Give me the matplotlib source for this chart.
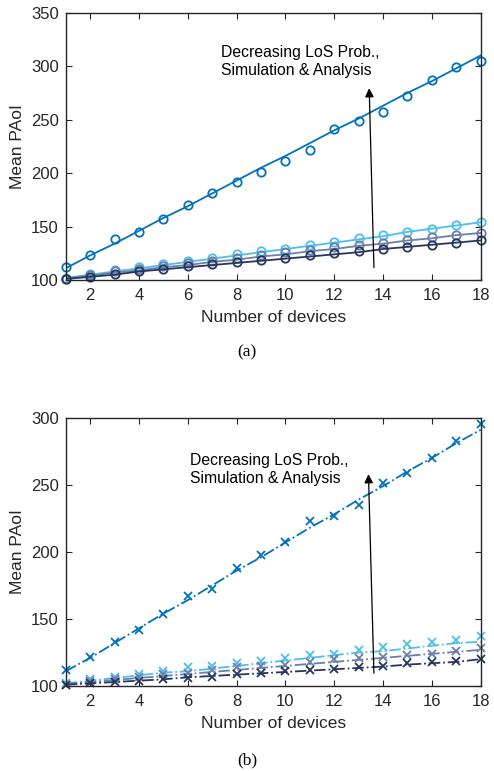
import matplotlib
matplotlib.use("Agg")
import matplotlib.pyplot as plt
import numpy as np

plt.rcParams["font.family"] = ["Liberation Sans", "DejaVu Sans"]

devices = list(range(1, 19))

# (a) simulation markers and analysis lines
a_sim = [
    [112, 123, 138, 145, 157, 170, 181, 192, 201, 211, 222, 241, 249, 257, 272, 287, 299, 305],
    [102, 106, 109, 112, 115, 118, 121, 124, 127, 129, 133, 136, 139, 142, 145, 148, 151, 154],
    [101, 105, 108, 110, 113, 116, 118, 121, 123, 126, 128, 131, 133, 135, 137, 140, 142, 144],
    [101, 103, 106, 108, 110, 113, 115, 117, 119, 121, 123, 125, 127, 129, 131, 133, 135, 137],
]
a_ana = [
    [111, 123, 134, 146, 158, 169, 181, 193, 205, 216, 228, 240, 251, 263, 275, 286, 298, 310],
    [102, 105, 108, 111, 114, 117, 120, 123, 126, 129, 132, 135, 138, 141, 145, 148, 151, 154],
    [101.5, 104, 107, 109, 112, 114, 117, 119, 122, 124, 127, 129, 132, 134, 137, 139, 142, 144],
    [101, 103, 105, 108, 110, 112, 114, 116, 118, 120, 122, 124, 126, 129, 131, 133, 135, 137],
]

# (b) simulation markers and analysis lines
b_sim = [
    [112, 122, 133, 142, 154, 167, 172, 188, 198, 207, 223, 227, 235, 251, 259, 270, 283, 295],
    [102, 105, 107, 109, 111, 114, 115, 117, 119, 121, 123, 124, 127, 129, 131, 133, 134, 137],
    [101, 104, 105, 107, 109, 110, 112, 114, 115, 116, 118, 120, 121, 122, 123, 124, 126, 128],
    [101, 102, 103, 104, 105, 106, 107, 109, 110, 111, 112, 113, 114, 115, 117, 118, 119, 120],
]
b_ana = [
    [111, 121, 132, 143, 154, 164, 175, 186, 196, 207, 218, 228, 239, 249, 260, 270, 281, 291],
    [102, 104, 106, 108, 110, 111, 113, 115, 117, 119, 121, 123, 125, 126, 128, 130, 132, 133],
    [101.5, 103, 104.5, 106, 107.5, 109, 110.5, 112, 113.5, 115, 116.5, 118, 119.5, 121, 122.5, 124, 125.5, 127],
    [101, 102, 103, 104, 105, 106.5, 107.5, 108.5, 109.5, 110.5, 111.5, 112.5, 113.5, 114.5, 116, 117, 118, 120],
]

colors = ["#0072BD", "#4DBEEE", "#6B7FA8", "#26365E"]


def style_axes(ax, ymax):
    ax.set_xlim(1, 18)
    ax.set_ylim(100, ymax)
    ax.set_xticks(range(2, 19, 2))
    ax.set_yticks(range(100, ymax + 1, 50))
    ax.tick_params(direction="in", top=True, right=True, length=4, width=0.8,
                   labelsize=12, colors="#262626")
    ax.tick_params(axis="x", pad=6)
    ax.tick_params(axis="y", pad=5)
    for s in ax.spines.values():
        s.set_linewidth(1.0)
        s.set_color("#262626")
    ax.set_xlabel("Number of devices", fontsize=12.5, color="#262626", labelpad=5)
    ax.set_ylabel("Mean PAoI", fontsize=12.5, color="#262626", labelpad=4)


fig = plt.figure(figsize=(4.94, 7.71), dpi=100)
ax1 = fig.add_axes([0.133, 0.6368, 0.840, 0.3467])
ax2 = fig.add_axes([0.133, 0.1102, 0.840, 0.348])

for sim, ana, c in zip(a_sim, a_ana, colors):
    ax1.plot(devices, ana, "-", color=c, lw=1.3)
    ax1.plot(devices, sim, "o", color=c, mfc="none", ms=6, mew=1.3, clip_on=False)
style_axes(ax1, 350)
ax1.annotate("", xy=(13.43, 282), xytext=(13.63, 109),
             arrowprops=dict(arrowstyle="-|>", color="black", lw=0.9, mutation_scale=13))
ax1.text(7.35, 304, "Decreasing LoS Prob.,\nSimulation & Analysis", fontsize=11.3,
         va="center", ha="left", linespacing=1.25)

for sim, ana, c in zip(b_sim, b_ana, colors):
    ax2.plot(devices, ana, "-.", color=c, lw=1.3)
    ax2.plot(devices, sim, "x", color=c, ms=6, mew=1.3, clip_on=False)
style_axes(ax2, 300)
ax2.annotate("", xy=(13.4, 260), xytext=(13.63, 107.5),
             arrowprops=dict(arrowstyle="-|>", color="black", lw=0.9, mutation_scale=13))
ax2.text(6.1, 261.5, "Decreasing LoS Prob.,\nSimulation & Analysis", fontsize=11.3,
         va="center", ha="left", linespacing=1.25)

fig.text(0.5, 1 - 352 / 771, "(a)", ha="center", va="center", fontsize=12.5,
         family="Liberation Serif")
fig.text(0.5, 1 - 760 / 771, "(b)", ha="center", va="center", fontsize=12.5,
         family="Liberation Serif")

fig.savefig("out.png", dpi=100)
